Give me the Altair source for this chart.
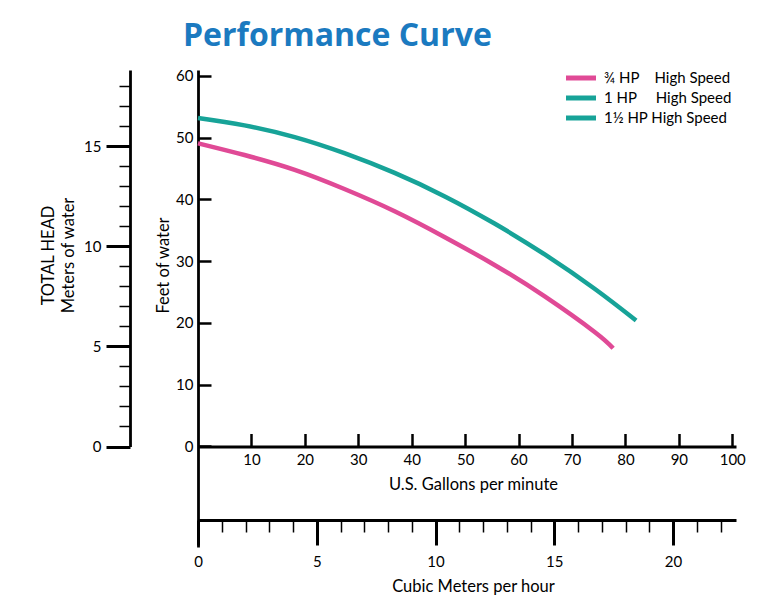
import altair as alt
import pandas as pd

# ---------------- data ----------------
TITLE = "Performance Curve"
SERIES = ["¾ HP\u2003\u00a0High Speed", "1 HP\u2003\u2002High Speed", "1½ HP High Speed"]
COLORS = ["#e04a96", "#17a398", "#17a398"]

gpm_34 = [0, 8.7, 18.1, 27.4, 36.8, 46.2, 55.5, 64.9, 74.3, 77.7]
head_34 = [49.1, 47.2, 44.8, 41.7, 38.1, 33.9, 29.4, 24.3, 18.5, 15.9]

gpm_1 = [0, 8.7, 18.1, 27.4, 36.8, 46.2, 55.5, 64.9, 74.3, 82.0]
head_1 = [53.2, 52.0, 50.1, 47.5, 44.3, 40.5, 36.1, 31.1, 25.5, 20.4]

gpm_ticks = [10, 20, 30, 40, 50, 60, 70, 80, 90, 100]
feet_ticks = [0, 10, 20, 30, 40, 50, 60]
meter_ticks = list(range(0, 19))
cmh_ticks = list(range(0, 23))

# ---------------- tables ----------------
curve_df = pd.DataFrame(
    {
        "gpm": gpm_34 + gpm_1,
        "feet": head_34 + head_1,
        "series": [SERIES[0]] * len(gpm_34) + [SERIES[1]] * len(gpm_1),
    }
)
meters_df = pd.DataFrame({"m": meter_ticks})
cmh_df = pd.DataFrame({"c": cmh_ticks})

FONT = "Lato"
W, H = 538, 477


def cond(test, a, b):
    return {"condition": {"test": test, "value": a}, "value": b}


MAJ5 = "datum.value % 5 === 0"

curves = alt.Chart(curve_df).mark_line(strokeWidth=4.5, interpolate="natural").encode(
    x=alt.X(
        "gpm:Q",
        scale=alt.Scale(domain=[0, 100.7], nice=False, zero=False),
        axis=alt.Axis(
            orient="top", offset=-376.5, values=gpm_ticks, tickSize=13, tickWidth=2.5,
            labelPadding=-25.8, labelBaseline="middle", labelFlush=False, labelOverlap=False,
            title="U.S. Gallons per minute", titleX=275, titleY=37.5,
            titleAlign="center", titleBaseline="middle",
        ),
    ),
    y=alt.Y(
        "feet:Q",
        scale=alt.Scale(domain=[-16.28, 60.97], nice=False, zero=False),
        axis=alt.Axis(
            orient="right", offset=-W, values=feet_ticks, tickSize=13, tickWidth=2.5,
            labelPadding=-18, labelAlign="right", labelBaseline="middle",
            labelFlush=False, labelOverlap=False,
            title="Feet of water", titleX=-35, titleY=195, titleAngle=270,
            titleAlign="center", titleBaseline="middle",
        ),
    ),
    color=alt.Color(
        "series:N",
        scale=alt.Scale(domain=SERIES, range=COLORS),
        legend=alt.Legend(
            orient="none", legendX=373, legendY=-2, title=None, padding=0,
            symbolType="M-2,0H2", symbolSize=225, symbolStrokeWidth=5,
            labelFont=FONT, labelFontSize=15, labelColor="black", labelOffset=13,
            rowPadding=0,
        ),
    ),
)

meters = alt.Chart(meters_df).mark_point(opacity=0).encode(
    y=alt.Y(
        "m:Q",
        scale=alt.Scale(domain=[0, 18.8], range=[376.5, 0], nice=False, zero=False),
        axis=alt.Axis(
            orient="left", offset=68, values=meter_ticks,
            tickSize=cond(MAJ5, 24, 11), tickWidth=cond(MAJ5, 3, 1.5),
            labelExpr="datum.value % 5 === 0 ? datum.label : ''",
            labelPadding=5, labelBaseline="middle", labelOverlap=False, labelFlush=False,
            title=["TOTAL HEAD", "Meters of water"], titleX=-82, titleY=185,
            titleAngle=270, titleAlign="center", titleBaseline="middle", titleLineHeight=20,
        ),
    )
)

cmh = alt.Chart(cmh_df).mark_point(opacity=0).encode(
    x=alt.X(
        "c:Q",
        scale=alt.Scale(domain=[0, 22.65], nice=False, zero=False),
        axis=alt.Axis(
            orient="bottom", offset=-27, values=cmh_ticks,
            tickSize=cond(MAJ5, 25, 12), tickWidth=cond(MAJ5, 3, 1.5),
            labelExpr="datum.value % 5 === 0 ? datum.label : ''",
            labelPadding=16.7, labelBaseline="middle", labelFlush=False, labelOverlap=False,
            title="Cubic Meters per hour", titleX=275, titleY=66,
            titleAlign="center", titleBaseline="middle",
        ),
    )
)

chart = (
    alt.layer(curves, meters, cmh)
    .resolve_scale(x="independent", y="independent")
    .properties(
        width=W,
        height=H,
        title=alt.Title(
            TITLE, font="Open Sans", fontSize=32, fontWeight="bold", color="#1b7ac0",
            anchor="start", frame="group", dx=-15, dy=33, offset=23, baseline="alphabetic",
        ),
        autosize=alt.AutoSizeParams(type="none"),
        padding={"left": 190, "top": 62, "right": 20, "bottom": 49},
    )
    .configure_view(strokeWidth=0)
    .configure_axis(
        domainColor="black", domainWidth=2.8, tickColor="black", labelColor="black",
        labelFont=FONT, labelFontSize=15, titleFont=FONT, titleFontSize=16.5,
        titleFontWeight="normal", titleColor="black", grid=False,
    )
)

chart.save("out.html", embed_options={"renderer": "svg", "actions": False})
